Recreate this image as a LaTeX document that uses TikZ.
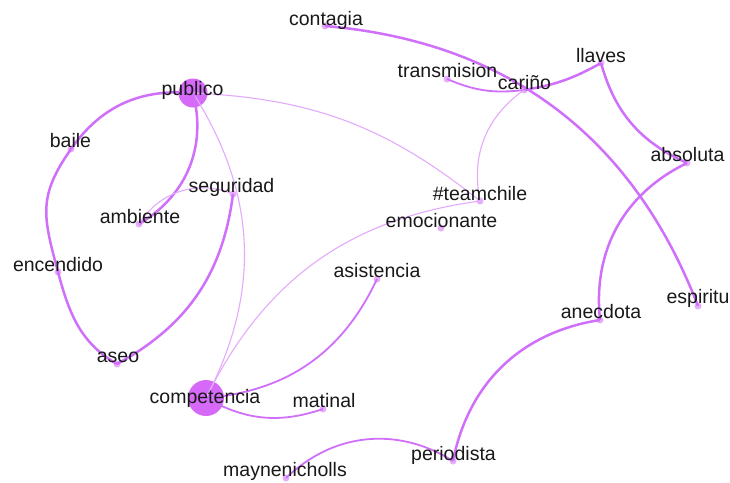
\documentclass[tikz,border=0pt]{standalone}
\usepackage{fontspec}
\setmainfont{Liberation Sans}
\definecolor{edgeH}{RGB}{208,112,250}
\definecolor{edgeL}{RGB}{228,170,252}
\definecolor{dotc}{RGB}{230,175,250}
\definecolor{bigc}{RGB}{214,105,248}
\definecolor{txt}{RGB}{25,25,25}
\begin{document}
\begin{tikzpicture}[x=1pt,y=-1pt,
  dot/.style={circle,fill=dotc,inner sep=0pt,minimum size=7pt},
  big/.style={circle,fill=bigc,inner sep=0pt},
  lbl/.style={anchor=base,text=txt,inner sep=0pt,font=\fontsize{19.5}{22}\selectfont},
  heavy/.style={draw=edgeH,line width=2.5pt},
  medium/.style={draw=edgeH,line width=1.8pt},
  light/.style={draw=edgeL,line width=1.1pt}]
\useasboundingbox[fill=white] (0,0) rectangle (730,482);

% dots
\node[dot] (contagia) at (325,26) {};
\node[dot] (transmision) at (447,79) {};
\node[dot] (carino) at (524,90) {};
\node[dot] (llaves) at (601,63) {};
\node[big,minimum size=29pt] (publico) at (193,93) {};
\node[dot] (baile) at (71,149) {};
\node[dot] (seguridad) at (233,194) {};
\node[dot] (ambiente) at (139,224) {};
\node[dot] (encendido) at (58,272) {};
\node[dot] (aseo) at (117,364) {};
\node[big,minimum size=36pt] (competencia) at (206,398) {};
\node[dot] (matinal) at (323,409) {};
\node[dot] (maynenicholls) at (286,478) {};
\node[dot] (periodista) at (453,461) {};
\node[dot] (asistencia) at (377,279) {};
\node[dot] (teamchile) at (480,201) {};
\node[dot] (emocionante) at (441,228) {};
\node[dot] (absoluta) at (687,163) {};
\node[dot] (espiritu) at (698,306) {};
\node[dot] (anecdota) at (600,320) {};

% edges
\draw[heavy] (contagia.center) to[bend left=32] (espiritu.center);
\draw[medium] (transmision.center) to[bend right=15] (carino.center);
\draw[heavy] (carino.center) to[bend right=10] (llaves.center);
\draw[heavy] (llaves.center) to[bend right=25] (absoluta.center);
\draw[heavy] (absoluta.center) to[bend right=35] (anecdota.center);
\draw[heavy] (anecdota.center) to[bend right=35] (periodista.center);
\draw[medium] (periodista.center) to[bend right=38] (maynenicholls.center);
\draw[light] (carino.center) to[bend right=33] (teamchile.center);
\draw[light] (publico.center) to[bend left=18] (teamchile.center);
\draw[light] (competencia.center) to[bend left=28] (teamchile.center);
\draw[light] (publico.center) to[bend left=30] (competencia.center);
\draw[heavy] (publico.center) to[bend left=37] (ambiente.center);
\draw[light] (ambiente.center) to[bend left=40] (seguridad.center);
\draw[heavy] (seguridad.center) to[bend left=27] (aseo.center);
\draw[medium] (asistencia.center) to[bend left=30] (competencia.center);
\draw[medium] (competencia.center) to[bend right=24] (matinal.center);
\draw[heavy] (publico.center) to[out=175,in=55] (baile.center);
\draw[heavy] (baile.center) to[out=235,in=105,looseness=1.2] (encendido.center);
\draw[heavy] (encendido.center) to[out=285,in=150] (aseo.center);

% labels
\node[lbl] (l-contagia) at (326,25) {contagia};
\node[lbl] (l-transmision) at (447.5,77) {transmision};
\node[lbl] (l-carino) at (524.5,89) {cariño};
\node[lbl] (l-llaves) at (601,62) {llaves};
\node[lbl] (l-publico) at (192.5,95) {publico};
\node[lbl] (l-baile) at (70.5,147) {baile};
\node[lbl] (l-seguridad) at (231.5,192) {seguridad};
\node[lbl] (l-ambiente) at (140,223) {ambiente};
\node[lbl] (l-encendido) at (58,271) {encendido};
\node[lbl] (l-aseo) at (118,362) {aseo};
\node[lbl] (l-competencia) at (205,403) {competencia};
\node[lbl] (l-matinal) at (324,407) {matinal};
\node[lbl] (l-maynenicholls) at (285,476) {maynenicholls};
\node[lbl] (l-periodista) at (453.5,460) {periodista};
\node[lbl] (l-asistencia) at (377,277) {asistencia};
\node[lbl] (l-teamchile) at (480,200) {\#teamchile};
\node[lbl] (l-emocionante) at (441.5,227) {emocionante};
\node[lbl] (l-absoluta) at (687.5,161) {absoluta};
\node[lbl] (l-espiritu) at (698,303) {espiritu};
\node[lbl] (l-anecdota) at (601,318) {anecdota};
\end{tikzpicture}
\end{document}
